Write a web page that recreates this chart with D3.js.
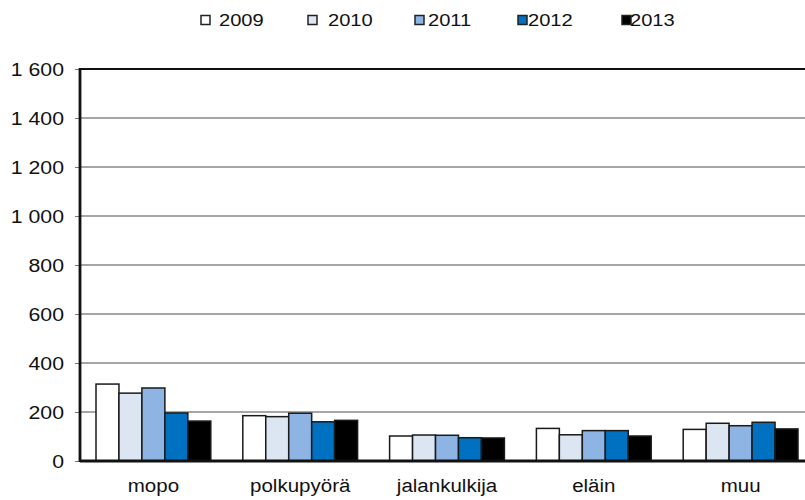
<!DOCTYPE html>
<html>
<head>
<meta charset="utf-8">
<script src="https://cdn.jsdelivr.net/npm/d3@7"></script>
<style>
  body { margin: 0; background: #fff; }
  svg { display: block; font-family: Arial, "Liberation Sans", sans-serif; }
</style>
</head>
<body>
<svg id="chart" width="805" height="500"></svg>
<script>
// Categories and years
const categories = ["mopo", "polkupyörä", "jalankulkija", "eläin", "muu"];
const years = ["2009", "2010", "2011", "2012", "2013"];

// Values per year, in category order
const v2009 = [314, 185, 102, 133, 129];
const v2010 = [277, 181, 106, 107, 154];
const v2011 = [298, 195, 105, 124, 144];
const v2012 = [196, 160, 95, 124, 158];
const v2013 = [163, 166, 94, 102, 131];
const seriesValues = [v2009, v2010, v2011, v2012, v2013];

const yTicks = [0, 200, 400, 600, 800, 1000, 1200, 1400, 1600];
const colors = ["#ffffff", "#dce6f2", "#8db4e2", "#0070c0", "#000000"];

const svg = d3.select("#chart");

const plotLeft = 80, plotRight = 814, plotTop = 69, plotBottom = 461;

const x0 = d3.scaleBand()
    .domain(categories)
    .range([plotLeft, plotRight])
    .paddingInner(0.218)
    .paddingOuter(0.109);

const x1 = d3.scaleBand()
    .domain(years)
    .range([0, x0.bandwidth()]);

const y = d3.scaleLinear()
    .domain([0, 1600])
    .range([plotBottom, plotTop]);

// the source text is a bit wide, stretch it horizontally
function wideText(sel, x, y, stretch) {
    return sel.attr("transform", (d, i) => `translate(${x(d, i)},${y(d, i)}) scale(${stretch},1)`);
}

// Gridlines
svg.append("g")
    .selectAll("line")
    .data(yTicks.filter(t => t > 0 && t < 1600))
    .join("line")
    .attr("x1", plotLeft)
    .attr("x2", 805)
    .attr("y1", d => y(d))
    .attr("y2", d => y(d))
    .attr("stroke", "#888")
    .attr("stroke-width", 1.3);

// Top border
svg.append("line")
    .attr("x1", plotLeft).attr("x2", 805)
    .attr("y1", y(1600)).attr("y2", y(1600))
    .attr("stroke", "#111").attr("stroke-width", 2.2);

// Y axis
const yAxis = svg.append("g")
    .attr("transform", `translate(${plotLeft},0)`)
    .call(d3.axisLeft(y).tickValues(yTicks).tickSize(5)
        .tickFormat(d => d3.format(",")(d).replace(",", " ")));
yAxis.select(".domain").remove();
yAxis.selectAll(".tick line").attr("stroke", "#777");
yAxis.selectAll(".tick text")
    .attr("x", null)
    .attr("font-size", 19)
    .attr("fill", "#111")
    .attr("transform", "translate(-16,0) scale(1.12,1)");

// Bars
const groups = svg.append("g")
    .selectAll("g")
    .data(categories)
    .join("g")
    .attr("transform", d => `translate(${x0(d)},0)`);

groups.selectAll("rect")
    .data((d, i) => years.map((yr, j) => ({year: yr, value: seriesValues[j][i], idx: j})))
    .join("rect")
    .attr("x", d => x1(d.year))
    .attr("y", d => y(d.value))
    .attr("width", x1.bandwidth())
    .attr("height", d => y(0) - y(d.value))
    .attr("fill", d => colors[d.idx])
    .attr("stroke", "#1a1a1a")
    .attr("stroke-width", 1.5);

// Axis lines
svg.append("line")
    .attr("x1", plotLeft).attr("x2", plotLeft)
    .attr("y1", plotTop - 1).attr("y2", plotBottom + 1)
    .attr("stroke", "#111").attr("stroke-width", 2.8);
svg.append("line")
    .attr("x1", plotLeft).attr("x2", 805)
    .attr("y1", plotBottom).attr("y2", plotBottom)
    .attr("stroke", "#111").attr("stroke-width", 2.8);

// Category labels
svg.append("g")
    .selectAll("text")
    .data(categories)
    .join("text")
    .call(wideText, d => x0(d) + x0.bandwidth() / 2, () => 492, 1.08)
    .attr("text-anchor", "middle")
    .attr("font-size", 19)
    .attr("fill", "#111")
    .text(d => d);

// Legend
const legendSquareX = [201, 308, 415, 518, 622];
const legendTextX = [219, 328, 428, 528, 630];
const legend = svg.append("g");
legend.selectAll("rect")
    .data(years)
    .join("rect")
    .attr("x", (d, i) => legendSquareX[i])
    .attr("y", 15.5)
    .attr("width", 9)
    .attr("height", 9)
    .attr("fill", (d, i) => colors[i])
    .attr("stroke", "#222")
    .attr("stroke-width", 1.5);
legend.selectAll("text")
    .data(years)
    .join("text")
    .call(wideText, (d, i) => legendTextX[i], () => 26, 1.22)
    .attr("font-size", 16.5)
    .attr("fill", "#111")
    .text(d => d);
</script>
</body>
</html>
